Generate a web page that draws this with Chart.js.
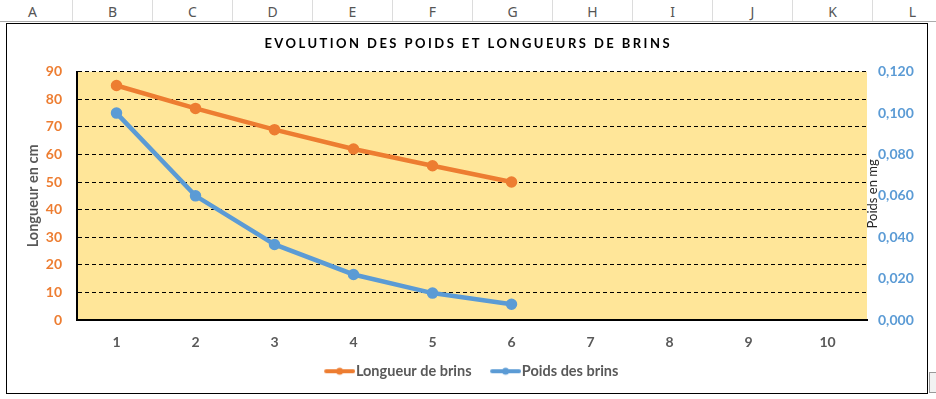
<!DOCTYPE html>
<html>
<head>
<meta charset="utf-8">
<script src="https://cdn.jsdelivr.net/npm/chart.js@4.4.1/dist/chart.umd.min.js"></script>
<style>
    body { margin: 0; background: #fff; width: 936px; height: 399px; position: relative; overflow: hidden; }
    #colHeader { position: absolute; left: -7px; top: 0; height: 21px; width: 960px; border-bottom: 1px solid #ababab; display: flex; }
    #colHeader div { width: 79px; border-right: 1px solid #dcdcdc; text-align: center; font: 14px "Noto Sans", sans-serif; color: #555; line-height: 24px; height: 21px; }
    #chartBox { position: absolute; left: 6px; top: 23px; width: 920px; height: 369px; border: 1px solid #000; background: #fff; }
    #handle { position: absolute; left: 929px; top: 372px; width: 12px; height: 19px; border: 1px solid #999; background: #f2f2f2; }
</style>
</head>
<body>
<div id="colHeader"></div>
<div id="handle"></div>
<div id="chartBox"><canvas id="evolutionChart"></canvas></div>
<script>
const columnLetters = ['A', 'B', 'C', 'D', 'E', 'F', 'G', 'H', 'I', 'J', 'K', 'L'];

const chartTitle = 'EVOLUTION DES POIDS ET LONGUEURS DE BRINS';
const categories = ['1', '2', '3', '4', '5', '6', '7', '8', '9', '10'];
const longueurBrins = [85, 76.7, 69, 62, 55.9, 50];
const poidsBrins = [0.100, 0.060, 0.0365, 0.022, 0.013, 0.0076];
const leftAxisTitle = 'Longueur en cm';
const rightAxisTitle = 'Poids en mg';

const orange = '#ED7D31';
const blue = '#5B9BD5';
const gray = '#595959';

document.getElementById('colHeader').innerHTML = columnLetters.map(l => `<div>${l}</div>`).join('');

// little line + dot symbol for the legend (Excel style)
function legendSymbol(color) {
    const c = document.createElement('canvas');
    c.width = 46;
    c.height = 10;
    const g = c.getContext('2d');
    g.strokeStyle = color;
    g.lineWidth = 4;
    g.lineCap = 'round';
    g.beginPath();
    g.moveTo(17, 5);
    g.lineTo(44, 5);
    g.stroke();
    g.fillStyle = color;
    g.beginPath();
    g.arc(30.5, 5, 3.5, 0, Math.PI * 2);
    g.fill();
    return c;
}

const plotBackground = {
    id: 'plotBackground',
    beforeDraw(chart) {
        const { ctx, chartArea: a } = chart;
        ctx.save();
        ctx.fillStyle = '#FFE699';
        ctx.fillRect(a.left, a.top, a.right - a.left, a.bottom - a.top);
        ctx.restore();
    }
};

const extraTexts = {
    id: 'extraTexts',
    afterDraw(chart) {
        const { ctx, chartArea: a } = chart;
        ctx.save();
        // spaced title
        ctx.font = 'bold 13px Lato';
        ctx.letterSpacing = '2.45px';
        ctx.fillStyle = '#000';
        ctx.textAlign = 'center';
        ctx.textBaseline = 'middle';
        ctx.fillText(chartTitle, chart.width / 2 + 1.2, 20);
        ctx.letterSpacing = '0px';
        // right axis title sits between plot and tick labels
        ctx.translate(a.right + 5.5, (a.top + a.bottom) / 2 - 2);
        ctx.rotate(-Math.PI / 2);
        ctx.font = '13px Lato';
        ctx.fillStyle = '#262626';
        ctx.fillText(rightAxisTitle, 0, 0);
        ctx.restore();
    }
};

const ctx = document.getElementById('evolutionChart').getContext('2d');
const evolutionChart = new Chart(ctx, {
    type: 'line',
    data: {
        labels: categories,
        datasets: [{
            label: 'Longueur de brins',
            data: longueurBrins,
            borderColor: orange,
            backgroundColor: orange,
            borderWidth: 4.5,
            pointRadius: 3.5,
            pointHoverRadius: 3.5,
            yAxisID: 'y'
        }, {
            label: 'Poids des brins',
            data: poidsBrins,
            borderColor: blue,
            backgroundColor: blue,
            borderWidth: 4.5,
            pointRadius: 3.5,
            pointHoverRadius: 3.5,
            yAxisID: 'y1'
        }]
    },
    options: {
        responsive: true,
        maintainAspectRatio: false,
        animation: false,
        layout: { padding: { top: 47.7, bottom: 4.5, left: 0, right: 0 } },
        plugins: {
            title: { display: false },
            tooltip: { enabled: false },
            legend: {
                position: 'bottom',
                labels: {
                    usePointStyle: true,
                    pointStyleWidth: 33,
                    padding: 10,
                    color: gray,
                    font: { family: 'Lato', size: 14.5, weight: 'bold' },
                    generateLabels(chart) {
                        const items = Chart.defaults.plugins.legend.labels.generateLabels(chart);
                        items.forEach(item => {
                            item.pointStyle = legendSymbol(chart.data.datasets[item.datasetIndex].borderColor);
                        });
                        return items;
                    }
                }
            }
        },
        scales: {
            x: {
                offset: true,
                grid: { display: false, drawTicks: false },
                border: { display: true, color: '#000', width: 2 },
                ticks: { color: gray, padding: 14, font: { family: 'Lato', size: 14, weight: 'bold' } },
                afterFit(scale) { scale.height = 34; }
            },
            y: {
                position: 'left',
                min: 0,
                max: 90,
                ticks: { stepSize: 10, color: orange, padding: 15, font: { family: 'Lato', size: 14, weight: 'bold' } },
                grid: { color: '#000', lineWidth: 1, drawTicks: false },
                border: { display: true, color: '#000', width: 2, dash: [4, 3] },
                title: {
                    display: true,
                    text: leftAxisTitle,
                    color: gray,
                    padding: { top: 18, bottom: 0 },
                    font: { family: 'Lato', size: 14.5, weight: 'bold' }
                },
                afterFit(scale) { scale.width = 70; }
            },
            y1: {
                position: 'right',
                min: 0,
                max: 0.12,
                ticks: {
                    stepSize: 0.02,
                    color: blue,
                    padding: 11,
                    font: { family: 'Lato', size: 14, weight: 'bold' },
                    callback: v => v.toFixed(3).replace('.', ',')
                },
                grid: { display: false, drawTicks: false },
                border: { display: false },
                afterFit(scale) { scale.width = 60; }
            }
        }
    },
    plugins: [plotBackground, extraTexts]
});
</script>
</body>
</html>
